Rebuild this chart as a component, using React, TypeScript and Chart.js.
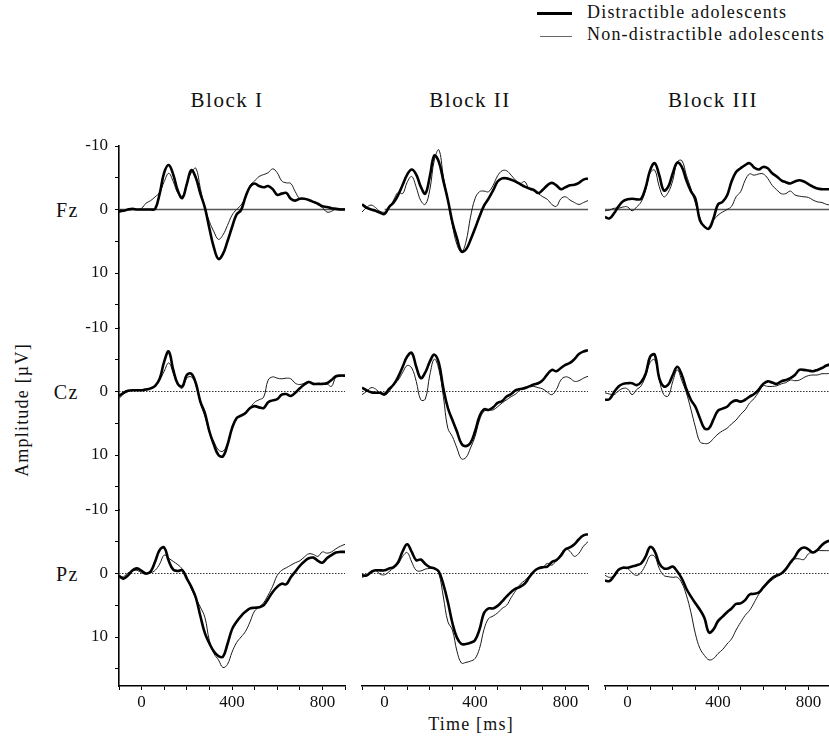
import { useEffect, useRef } from 'react';
import { Chart, registerables } from 'chart.js';

Chart.register(...registerables);

// ---------- DATA ----------
const timesMs = [-100, -80, -60, -40, -20, 0, 20, 40, 60, 80, 100, 120, 140, 160, 180, 200, 220, 240, 260, 280, 300, 320, 340, 360, 380, 400, 420, 440, 460, 480, 500, 520, 540, 560, 580, 600, 620, 640, 660, 680, 700, 720, 740, 760, 780, 800, 820, 840, 860, 880, 900];

// Fz
const fzBlock1Distractible = [0.2, 0.2, 0.0, -0.1, 0.0, 0.0, 0.0, 0.0, -0.1, -2.5, -5.8, -7.0, -5.5, -3.0, -1.8, -4.0, -6.2, -5.0, -2.5, -0.3, 3.0, 6.0, 7.8, 7.0, 5.0, 2.8, 0.8, 0.1, -2.0, -3.6, -4.1, -3.7, -3.5, -3.7, -3.2, -2.3, -2.5, -2.6, -1.7, -1.4, -1.7, -1.7, -1.5, -1.2, -0.9, -0.5, -0.4, -0.2, -0.1, 0.0, 0.0];
const fzBlock1NonDistractible = [0.5, 0.2, 0.0, -0.1, 0.0, -0.2, -1.0, -1.4, -2.0, -2.7, -4.4, -5.7, -4.4, -2.6, -2.0, -4.1, -5.8, -6.5, -3.3, -0.2, 1.9, 3.5, 4.7, 4.0, 2.5, 0.9, 0.0, -0.7, -2.0, -3.8, -4.5, -5.2, -5.5, -5.8, -6.4, -5.8, -4.5, -4.2, -4.1, -2.8, -1.7, -1.7, -1.5, -1.2, -0.8, -0.3, 0.4, 0.3, -0.1, -0.1, -0.1];
const fzBlock2Distractible = [-0.8, -0.3, 0.0, 0.2, 0.5, 0.7, -0.4, -1.1, -2.3, -3.9, -5.5, -6.3, -5.5, -3.6, -2.5, -5.2, -8.5, -7.5, -4.5, -1.5, 2.0, 4.5, 6.6, 6.3, 4.8, 3.0, 1.1, -0.6, -1.7, -3.0, -4.4, -4.9, -4.9, -4.7, -4.4, -4.0, -3.6, -3.3, -3.1, -2.6, -3.1, -3.8, -4.2, -3.8, -3.2, -3.5, -3.8, -3.9, -4.2, -4.7, -4.9];
const fzBlock2NonDistractible = [0.4, -0.3, -0.7, -0.3, 0.3, 0.4, -0.2, -1.5, -2.7, -2.5, -4.3, -5.2, -3.5, -1.4, -0.8, -3.1, -7.8, -9.4, -5.2, -1.5, 2.5, 5.5, 6.7, 5.1, 1.2, -1.7, -2.8, -2.9, -2.8, -3.8, -5.3, -6.1, -6.1, -5.4, -4.6, -4.1, -4.4, -3.2, -2.9, -2.5, -2.0, -1.6, -0.8, -0.5, -1.7, -2.0, -1.5, -1.1, -0.8, -1.1, -1.4];
const fzBlock3Distractible = [1.2, 1.4, 0.6, -0.5, -1.3, -1.6, -1.7, -1.6, -1.7, -3.5, -6.2, -7.3, -5.4, -3.0, -3.6, -5.7, -7.4, -6.7, -4.6, -2.9, -1.7, 1.7, 2.7, 3.0, 1.4, -0.8, -1.2, -2.2, -4.4, -5.9, -6.5, -7.0, -7.3, -6.6, -6.3, -6.7, -6.5, -5.7, -5.2, -4.6, -4.3, -4.1, -4.4, -4.6, -4.4, -4.0, -3.6, -3.3, -3.2, -3.2, -3.2];
const fzBlock3NonDistractible = [0.2, 0.1, -0.2, -0.2, -0.4, -0.4, 0.2, -0.4, -1.2, -3.1, -5.8, -6.2, -3.6, -2.0, -2.7, -4.6, -7.5, -7.7, -5.4, -3.3, -1.0, 1.3, 2.7, 3.0, 1.7, 0.9, 0.4, 0.0, -0.5, -2.0, -2.8, -4.6, -5.6, -5.4, -5.6, -5.6, -4.9, -3.8, -3.1, -2.5, -2.5, -2.9, -2.3, -2.1, -2.0, -1.9, -1.5, -1.2, -1.1, -0.8, -0.7];

// Cz
const czBlock1Distractible = [0.7, 0.2, -0.1, -0.2, -0.2, -0.2, -0.3, -0.5, -0.9, -2.0, -4.7, -6.3, -3.4, -1.2, -0.8, -2.6, -2.8, -1.3, 1.6, 3.4, 6.3, 8.4, 10.0, 10.2, 8.4, 5.8, 4.2, 3.8, 3.4, 2.6, 2.3, 2.5, 2.6, 1.7, 1.4, 1.2, 0.5, 0.4, 0.7, 0.2, -0.5, -1.1, -1.5, -1.2, -1.2, -1.2, -1.3, -1.8, -2.4, -2.5, -2.5];
const czBlock1NonDistractible = [1.1, 0.4, 0.0, -0.2, -0.2, -0.3, -0.4, -0.5, -1.0, -1.8, -3.2, -4.5, -2.9, -1.1, -0.5, -2.1, -2.3, -1.1, 1.8, 3.9, 6.3, 7.9, 9.2, 9.4, 8.2, 5.8, 4.2, 3.8, 3.4, 2.6, 1.7, 1.3, 0.9, -1.8, -2.3, -2.1, -2.0, -2.1, -2.0, -1.3, -1.1, -1.3, -1.6, -1.1, -1.2, -1.2, -1.2, -0.8, -2.3, -2.5, -2.5];
const czBlock2Distractible = [-0.6, -0.2, 0.1, 0.2, 0.2, 0.4, -0.4, -1.1, -2.3, -3.9, -5.5, -6.1, -3.9, -2.1, -3.0, -4.7, -5.8, -4.5, -0.5, 2.6, 4.5, 6.3, 8.2, 8.6, 8.1, 6.3, 3.9, 2.8, 2.9, 2.5, 1.8, 1.5, 0.8, 0.4, -0.2, -0.4, -0.5, -0.8, -1.1, -1.3, -1.8, -2.7, -3.4, -3.2, -3.7, -4.2, -4.5, -5.1, -5.9, -6.3, -6.5];
const czBlock2NonDistractible = [0.5, 0.0, -0.6, -0.4, 0.3, 0.6, 0.0, -1.1, -1.8, -3.0, -4.1, -3.7, -1.6, 1.3, 1.2, -2.6, -5.1, -3.5, 0.8, 5.8, 7.1, 8.9, 10.6, 10.4, 8.9, 7.1, 4.5, 3.1, 2.9, 2.9, 2.4, 1.8, 1.3, 0.8, 0.4, -0.3, -0.7, -0.8, -0.8, -0.6, -0.4, 0.1, 0.5, -0.3, -1.8, -2.3, -2.1, -1.6, -1.7, -2.1, -2.4];
const czBlock3Distractible = [1.3, 1.2, 0.1, -0.8, -1.2, -1.3, -1.3, -1.0, -1.5, -2.8, -5.5, -5.8, -2.1, -0.8, -1.1, -2.6, -3.9, -2.6, -0.4, 1.3, 2.4, 4.2, 5.8, 5.8, 4.4, 3.0, 2.7, 2.4, 1.7, 1.4, 1.6, 1.3, 0.8, 0.4, -0.3, -1.2, -1.6, -1.4, -1.2, -1.6, -1.8, -2.1, -2.6, -3.4, -3.4, -3.3, -3.2, -3.4, -3.7, -4.1, -4.3];
const czBlock3NonDistractible = [0.2, 0.4, 0.5, -0.1, -0.5, -0.4, 0.5, -0.3, -0.9, -2.5, -4.6, -5.0, -1.9, 0.5, 0.7, -1.6, -3.4, -1.7, 0.2, 2.8, 5.6, 7.9, 8.2, 8.1, 7.4, 6.7, 6.2, 5.8, 5.1, 4.5, 3.6, 2.9, 1.8, 1.1, 0.1, -0.9, -0.8, -0.8, -0.9, -1.2, -1.4, -1.8, -1.7, -1.8, -2.2, -2.5, -2.6, -2.6, -2.8, -2.8, -2.9];

// Pz
const pzBlock1Distractible = [0.4, 0.8, 0.3, -0.5, -0.8, -0.4, 0.0, -0.3, -1.9, -3.7, -4.1, -2.0, -0.6, -0.4, -0.5, 0.8, 2.1, 3.8, 6.7, 9.4, 11.0, 12.3, 13.0, 13.1, 11.1, 8.8, 7.6, 6.7, 6.0, 5.5, 5.4, 5.3, 5.0, 4.0, 2.9, 2.1, 1.6, 1.7, 0.6, -0.3, -1.2, -1.9, -2.4, -2.5, -2.0, -1.7, -2.4, -2.9, -3.3, -3.4, -3.4];
const pzBlock1NonDistractible = [0.3, 0.5, -0.1, -0.4, -0.5, -0.1, 0.1, -0.1, -0.5, -1.5, -2.9, -2.4, -1.9, -1.4, -0.7, 0.5, 2.4, 3.9, 5.3, 6.9, 10.6, 12.6, 13.6, 14.8, 14.3, 12.4, 10.9, 10.0, 9.1, 7.6, 5.9, 5.3, 4.6, 3.4, 2.0, 0.3, -0.5, -0.9, -1.3, -1.7, -2.0, -2.6, -3.1, -3.0, -2.7, -3.4, -3.2, -3.4, -3.9, -4.3, -4.6];
const pzBlock2Distractible = [0.3, 0.3, -0.2, -0.5, -0.5, -0.5, -0.8, -1.0, -1.8, -3.5, -4.6, -3.4, -2.1, -2.2, -1.5, -1.0, -0.8, -0.3, 1.7, 4.5, 7.8, 10.1, 11.1, 11.1, 10.9, 10.5, 8.8, 6.2, 5.5, 5.5, 5.1, 4.4, 3.6, 2.9, 2.4, 2.1, 1.6, 0.6, -0.3, -0.8, -1.0, -1.1, -1.8, -2.1, -2.8, -3.8, -4.1, -4.6, -5.4, -6.0, -6.2];
const pzBlock2NonDistractible = [0.6, 0.3, -0.4, -0.5, 0.1, 0.2, -0.3, -0.9, -1.5, -2.7, -3.3, -1.8, -0.5, -0.4, -0.7, -0.8, -0.9, 0.0, 3.7, 7.6, 8.9, 12.2, 14.1, 14.0, 13.8, 13.4, 11.8, 8.8, 7.1, 6.7, 6.2, 5.5, 5.0, 3.8, 2.7, 1.7, 1.1, 0.4, -0.4, -0.8, -0.9, -1.6, -1.3, -2.1, -3.1, -3.9, -3.5, -2.7, -3.2, -4.3, -5.0];
const pzBlock3Distractible = [1.1, 1.2, 0.4, -0.6, -0.9, -0.9, -1.1, -1.3, -1.6, -2.7, -4.2, -3.5, -1.6, -0.8, -0.8, -1.1, -0.3, 0.8, 2.4, 3.6, 4.7, 5.7, 7.0, 9.3, 8.8, 7.5, 6.8, 6.1, 5.5, 4.8, 4.7, 4.2, 3.3, 3.2, 3.0, 2.2, 1.4, 0.7, 0.3, 0.0, -0.7, -1.7, -2.6, -3.7, -4.1, -3.8, -3.3, -3.7, -4.5, -5.0, -5.2];
const pzBlock3NonDistractible = [0.3, 0.6, 0.4, -0.5, -1.0, -0.8, -0.1, 0.3, -0.2, -1.4, -2.8, -2.7, -0.8, 0.3, 0.5, 0.6, 0.6, 1.5, 3.4, 6.1, 9.5, 11.8, 12.9, 13.6, 13.4, 12.6, 12.0, 11.1, 10.3, 8.9, 7.7, 6.6, 5.8, 4.6, 3.3, 2.4, 1.6, 1.0, 0.5, 0.1, -0.5, -1.9, -2.3, -2.3, -2.2, -3.1, -3.4, -3.6, -3.6, -3.6, -3.6];

const blockTitles = ['Block I', 'Block II', 'Block III'];
const electrodeLabels = ['Fz', 'Cz', 'Pz'];
const legendLabels = ['Distractible adolescents', 'Non-distractible adolescents'];
const yTickValues = [-10, -5, 0, 5, 10, 15];
const yLabeledTicks = [-10, 0, 10];
const xTickValues = [-100, 0, 100, 200, 300, 400, 500, 600, 700, 800, 900];
const xLabeledTicks = [0, 400, 800];
const zeroLineStartMs = [
  [-100, 0, -100],
  [-100, -100, -100],
  [-100, -100, -100],
];

const series = [
  [[fzBlock1Distractible, fzBlock1NonDistractible], [fzBlock2Distractible, fzBlock2NonDistractible], [fzBlock3Distractible, fzBlock3NonDistractible]],
  [[czBlock1Distractible, czBlock1NonDistractible], [czBlock2Distractible, czBlock2NonDistractible], [czBlock3Distractible, czBlock3NonDistractible]],
  [[pzBlock1Distractible, pzBlock1NonDistractible], [pzBlock2Distractible, pzBlock2NonDistractible], [pzBlock3Distractible, pzBlock3NonDistractible]],
];

// ---------- LAYOUT ----------
const SERIF = '"Liberation Serif", "Times New Roman", Times, serif';
const COL_LEFT = [119, 362, 605];
const PLOT_W = 226;
const ROW_TOP = [146, 328, 510];
const ROW_H = [182, 182, 176];
const PX_PER_UV = 6.35;
const PAD = 22;
const YAXIS_W = 50;
const XAXIS_H = 30;

function Panel({ row, col }: { row: number; col: number }) {
  const ref = useRef<HTMLCanvasElement | null>(null);
  const showY = col === 0;
  const showX = row === 2;
  const w = PLOT_W + 2 * PAD + (showY ? YAXIS_W : 0);
  const h = ROW_H[row] + 2 * PAD + (showX ? XAXIS_H : 0);
  const left = COL_LEFT[col] - PAD - (showY ? YAXIS_W : 0);
  const top = ROW_TOP[row] - PAD;

  useEffect(() => {
    const canvas = ref.current;
    if (!canvas) return;
    const [dist, nonDist] = series[row][col];
    const yMax = -10 + ROW_H[row] / PX_PER_UV;
    const tickFont = { family: SERIF, size: 17 };
    const zeroDashed = row !== 0;
    const xScale: any = {
      type: 'linear',
      min: -100,
      max: 900,
      display: showX,
      afterBuildTicks: (s: any) => {
        s.ticks = xTickValues.map((v) => ({ value: v }));
      },
      ticks: {
        autoSkip: false,
        maxRotation: 0,
        minRotation: 0,
        padding: 2,
        color: '#111',
        font: tickFont,
        callback: (v: any) => (xLabeledTicks.includes(Number(v)) ? String(v) : ''),
      },
      grid: {
        display: true,
        drawOnChartArea: false,
        drawTicks: true,
        tickLength: 4,
        tickColor: '#000',
        tickWidth: 1,
      },
      border: { display: true, color: '#000', width: 1.6 },
    };
    if (showX) {
      xScale.afterFit = (s: any) => {
        s.height = XAXIS_H;
      };
    }
    const yScale: any = {
      type: 'linear',
      reverse: true,
      min: -10,
      max: yMax,
      display: showY,
      afterBuildTicks: (s: any) => {
        s.ticks = yTickValues.map((v) => ({ value: v }));
      },
      ticks: {
        padding: 7,
        color: '#111',
        font: tickFont,
        callback: (v: any) => (yLabeledTicks.includes(Number(v)) ? String(v) : ''),
      },
      grid: {
        display: true,
        drawOnChartArea: false,
        drawTicks: true,
        tickLength: 4,
        tickColor: '#000',
        tickWidth: 1,
      },
      border: { display: true, color: '#000', width: 1.6 },
    };
    if (showY) {
      yScale.afterFit = (s: any) => {
        s.width = YAXIS_W;
      };
    }
    const chart = new Chart(canvas, {
      type: 'line',
      data: {
        datasets: [
          {
            label: legendLabels[0],
            data: timesMs.map((t, i) => ({ x: t, y: dist[i] })),
            borderColor: '#000',
            borderWidth: 2.6,
            pointRadius: 0,
            tension: 0.4,
            fill: false,
            order: 0,
          },
          {
            label: legendLabels[1],
            data: timesMs.map((t, i) => ({ x: t, y: nonDist[i] })),
            borderColor: '#1a1a1a',
            borderWidth: 1,
            pointRadius: 0,
            tension: 0.4,
            fill: false,
            order: 1,
          },
          {
            label: 'zero',
            data: [
              { x: zeroLineStartMs[row][col], y: 0 },
              { x: 900, y: 0 },
            ],
            borderColor: zeroDashed ? '#333' : '#555',
            borderWidth: zeroDashed ? 1 : 1.6,
            borderDash: zeroDashed ? [1.5, 1.5] : [],
            pointRadius: 0,
            tension: 0,
            fill: false,
            order: 2,
          },
        ],
      },
      options: {
        animation: false,
        responsive: false,
        maintainAspectRatio: false,
        events: [],
        layout: { padding: PAD, autoPadding: false },
        plugins: { legend: { display: false }, tooltip: { enabled: false } },
        scales: { x: xScale, y: yScale },
      } as any,
    });
    return () => chart.destroy();
  }, [row, col]);

  return (
    <canvas
      ref={ref}
      width={w}
      height={h}
      style={{ position: 'absolute', left, top, width: w, height: h }}
    />
  );
}

export default function App() {
  const rows = [0, 1, 2];
  const cols = [0, 1, 2];
  const zeroY = ROW_TOP.map((t) => t + 10 * PX_PER_UV);
  return (
    <div
      style={{
        position: 'fixed',
        left: 0,
        top: 0,
        width: 829,
        height: 742,
        background: '#fff',
        overflow: 'hidden',
        fontFamily: SERIF,
        color: '#111',
      }}
    >
      {/* Legend */}
      <div style={{ position: 'absolute', left: 537, top: 12, width: 35, borderTop: '3px solid #000' }} />
      <div style={{ position: 'absolute', left: 587, top: 3, fontSize: 18, lineHeight: '18px', letterSpacing: 1.2, whiteSpace: 'nowrap' }}>
        {legendLabels[0]}
      </div>
      <div style={{ position: 'absolute', left: 540, top: 36, width: 32, borderTop: '1px solid #666' }} />
      <div style={{ position: 'absolute', left: 587, top: 25, fontSize: 18, lineHeight: '18px', letterSpacing: 1.2, whiteSpace: 'nowrap' }}>
        {legendLabels[1]}
      </div>

      {/* Block titles */}
      {blockTitles.map((t, c) => (
        <div
          key={t}
          style={{
            position: 'absolute',
            left: COL_LEFT[c] + PLOT_W / 2 - 100 - 5,
            top: 90,
            width: 200,
            textAlign: 'center',
            fontSize: 21,
            lineHeight: '21px',
            letterSpacing: 1.5,
            whiteSpace: 'nowrap',
          }}
        >
          {t}
        </div>
      ))}

      {/* Electrode labels */}
      {electrodeLabels.map((e, r) => (
        <div
          key={e}
          style={{
            position: 'absolute',
            left: 19,
            top: zeroY[r] - 10,
            width: 60,
            textAlign: 'right',
            fontSize: 20,
            lineHeight: '20px',
            letterSpacing: 1.5,
          }}
        >
          {e}
        </div>
      ))}

      {/* Axis titles */}
      <div
        style={{
          position: 'absolute',
          left: 22 - 100,
          top: 410 - 10,
          width: 200,
          height: 20,
          textAlign: 'center',
          fontSize: 18,
          lineHeight: '20px',
          letterSpacing: 1.2,
          transform: 'rotate(-90deg)',
          transformOrigin: '50% 50%',
          whiteSpace: 'nowrap',
        }}
      >
        Amplitude [µV]
      </div>
      <div
        style={{
          position: 'absolute',
          left: 471 - 100,
          top: 715,
          width: 200,
          textAlign: 'center',
          fontSize: 18,
          lineHeight: '18px',
          letterSpacing: 1.2,
          whiteSpace: 'nowrap',
        }}
      >
        Time [ms]
      </div>

      {rows.map((r) => cols.map((c) => <Panel key={`${r}-${c}`} row={r} col={c} />))}
    </div>
  );
}
